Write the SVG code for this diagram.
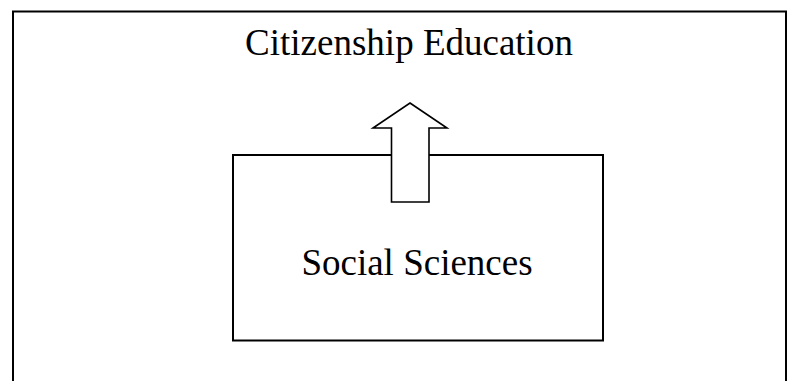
<svg xmlns="http://www.w3.org/2000/svg" width="796" height="381" viewBox="0 0 796 381">
<style>
.ln{fill:none;stroke:#000;stroke-width:2}
.bx{fill:#fff;stroke:#000;stroke-width:2}
.ar{fill:#fff;stroke:#000;stroke-width:1.6;stroke-linejoin:miter}
.tx{font-family:"Liberation Serif","Times New Roman",serif;font-size:37px;fill:#000;text-anchor:middle}
</style>
<rect width="796" height="381" fill="#fff"/>
<g id="frame">
<path class="ln" d="M13,390 V11.5 H786 V390"/>
</g>
<g id="citizenship-education">
<text class="tx" x="409" y="55">Citizenship Education</text>
</g>
<g id="social-sciences">
<rect class="bx" x="233" y="155" width="370" height="185.5"/>
<text class="tx" x="417" y="275">Social Sciences</text>
</g>
<g id="connectors">
<path class="ar" d="M410,103 L447,128 H429 V202 H391.5 V128 H373 Z"/>
</g>
</svg>
